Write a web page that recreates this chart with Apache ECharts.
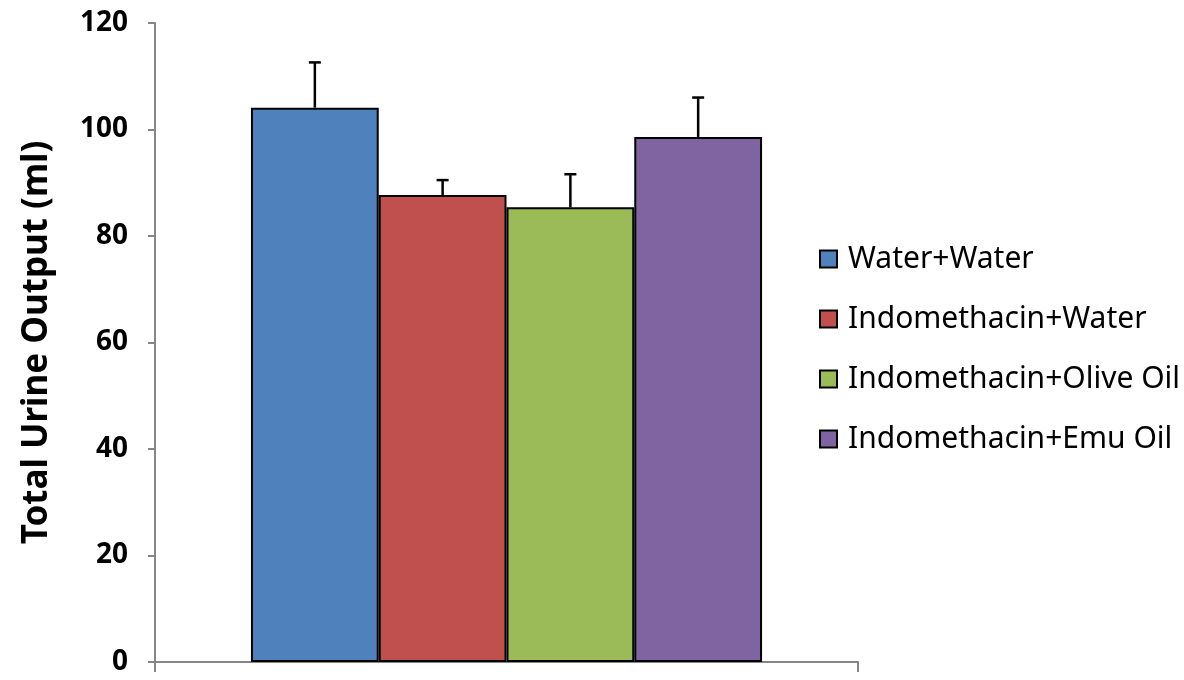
<!DOCTYPE html>
<html>
<head>
<meta charset="utf-8">
<script src="https://cdn.jsdelivr.net/npm/echarts@6/dist/echarts.min.js"></script>
<style>
html,body{margin:0;padding:0;background:#fff;}
#chart{width:1184px;height:680px;}
</style>
</head>
<body>
<div id="chart"></div>
<script>
const groups = ['Water+Water', 'Indomethacin+Water', 'Indomethacin+Olive Oil', 'Indomethacin+Emu Oil'];
const means = [104.1, 87.7, 85.4, 98.6];
const errors = [8.5, 2.8, 6.2, 7.4];
const colors = ['#4F81BD', '#C0504D', '#9BBB59', '#8064A2'];
const yTicks = [0, 20, 40, 60, 80, 100, 120];

const GAP = 0.273;
const FONT = '"Noto Sans", "DejaVu Sans", sans-serif';

const chart = echarts.init(document.getElementById('chart'), null, {renderer: 'canvas'});

const barSeries = groups.map((g, i) => ({
  name: g,
  type: 'bar',
  data: [means[i]],
  barGap: '0%',
  barCategoryGap: (GAP * 100) + '%',
  itemStyle: {color: colors[i], borderColor: '#000', borderWidth: 2},
  z: 2
}));

const errSeries = {
  type: 'custom',
  name: 'err',
  z: 3,
  silent: true,
  data: means.map((m, i) => [0, m, m + errors[i], i]),
  encode: {x: 0, y: [1, 2]},
  renderItem: function (params, api) {
    const idx = api.value(3);
    const base = api.coord([0, api.value(1)]);
    const top = api.coord([0, api.value(2)]);
    const band = api.size([1, 0])[0];
    const barW = band * (1 - GAP) / groups.length;
    const cx = base[0] - (groups.length / 2) * barW + (idx + 0.5) * barW;
    const cap = 6;
    const style = {stroke: '#000', lineWidth: 2.5};
    return {
      type: 'group',
      children: [
        {type: 'line', shape: {x1: cx, y1: base[1], x2: cx, y2: top[1]}, style: style},
        {type: 'line', shape: {x1: cx - cap, y1: top[1], x2: cx + cap, y2: top[1]}, style: style}
      ]
    };
  }
};

chart.setOption({
  animation: false,
  backgroundColor: '#fff',
  grid: {left: 155, right: 326, top: 23, bottom: 18, containLabel: false},
  legend: {
    orient: 'vertical',
    left: 819,
    top: 244,
    padding: 0,
    data: groups,
    itemWidth: 17,
    itemHeight: 17,
    itemGap: 30,
    icon: 'rect',
    itemStyle: {borderColor: '#000', borderWidth: 2},
    textStyle: {fontFamily: FONT, fontSize: 30, color: '#000', lineHeight: 30, padding: [0, 0, 0, 6]},
    selectedMode: false
  },
  xAxis: {
    type: 'category',
    data: [''],
    axisLine: {show: true, lineStyle: {color: '#868686', width: 2}},
    axisTick: {show: true, length: 10, lineStyle: {color: '#868686', width: 2}},
    axisLabel: {show: false},
    splitLine: {show: false}
  },
  yAxis: {
    type: 'value',
    min: yTicks[0],
    max: yTicks[yTicks.length - 1],
    interval: 20,
    name: 'Total Urine Output (ml)',
    nameLocation: 'middle',
    nameGap: 100,
    nameTextStyle: {fontFamily: FONT, fontSize: 35, fontWeight: 'bold', color: '#000'},
    axisLine: {show: true, lineStyle: {color: '#868686', width: 2}},
    axisTick: {show: true, length: 7, lineStyle: {color: '#868686', width: 2}},
    axisLabel: {fontFamily: FONT, fontSize: 28, fontWeight: 'bold', color: '#000', margin: 27},
    splitLine: {show: false}
  },
  series: barSeries.concat([errSeries])
});
</script>
</body>
</html>
